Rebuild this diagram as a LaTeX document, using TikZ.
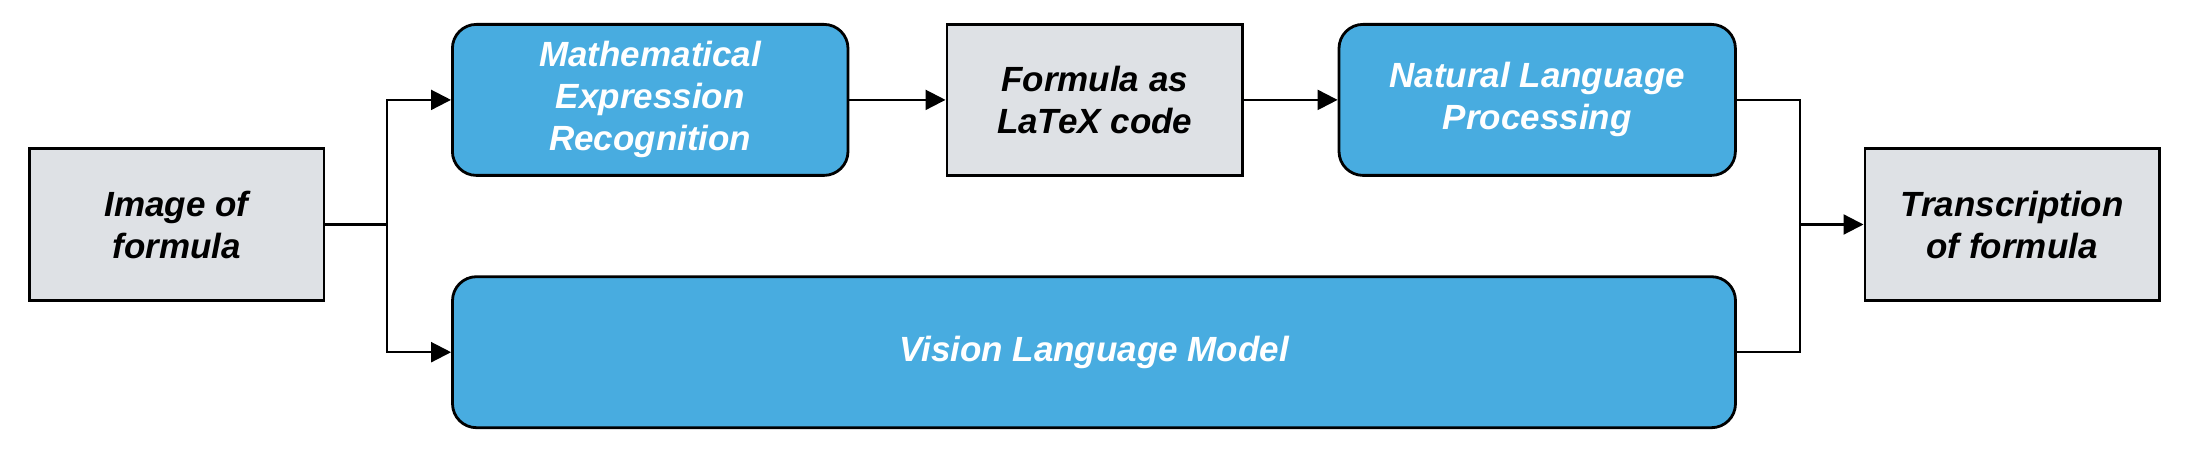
\documentclass[tikz,border=0pt]{standalone}
\usepackage{fontspec}
\setmainfont{Liberation Sans}
\usetikzlibrary{arrows.meta}
\definecolor{boxblue}{RGB}{72,172,224}
\definecolor{boxgray}{RGB}{222,225,229}
\tikzset{
  every node/.style={font=\fontsize{17.5}{21}\selectfont\bfseries\itshape, align=center, inner sep=0pt},
  graybox/.style={draw=black, line width=1.4pt, fill=boxgray, text=black, minimum height=76pt},
  bluebox/.style={draw=black, line width=1.4pt, fill=boxblue, text=white, rounded corners=12pt, minimum height=75.5pt},
  conn/.style={draw=black, line width=1.1pt},
  arr/.style={conn, -{Triangle[length=10pt,width=10pt]}}
}
\begin{document}
\begin{tikzpicture}[x=0.5pt,y=-0.5pt]
\useasboundingbox (0,0) rectangle (2192,454);
\node[graybox, minimum width=147.4pt] (img) at (176.6,224.5) {Image of\\formula};
\node[bluebox, minimum width=197.8pt] (mer) at (650.2,99.9) {Mathematical\\Expression\\Recognition};
\node[graybox, minimum width=147.8pt, minimum height=75.5pt] (latex) at (1094.7,99.9) {Formula as\\LaTeX code};
\node[bluebox, minimum width=198.2pt] (nlp) at (1537.2,99.9) {Natural Language\\Processing};
\node[graybox, minimum width=147.2pt] (trans) at (2012.1,224.5) {Transcription\\of formula};
\node[bluebox, minimum width=641.5pt] (vlm) at (1094,352.2) {Vision Language Model};
\coordinate (jl) at (387.3,224.5);
\coordinate (jr) at (1800,224.5);
\draw[conn] (img.east) -- (jl);
\draw[arr] (jl) |- (mer.west);
\draw[arr] (jl) |- (vlm.west);
\draw[arr] (mer.east) -- (latex.west);
\draw[arr] (latex.east) -- (nlp.west);
\draw[conn] (nlp.east) -| (jr) |- (vlm.east);
\draw[arr] (jr) -- (trans.west);
\end{tikzpicture}
\end{document}
